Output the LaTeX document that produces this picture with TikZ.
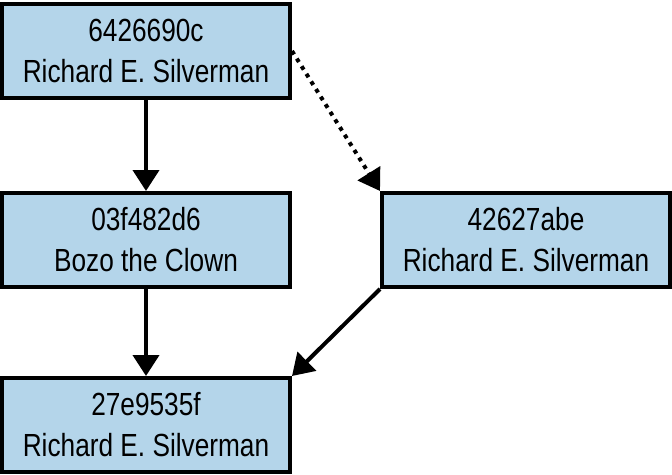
\documentclass[tikz,border=0pt]{standalone}
\usepackage{fontspec}
\setmainfont{Liberation Sans}[FakeStretch=0.82]
\usepackage{xcolor}
\definecolor{commitblue}{HTML}{B4D5EA}
\usetikzlibrary{arrows.meta,positioning}
\tikzset{
  commit/.style = {rectangle, draw=black, line width=4pt, fill=commitblue,
                   minimum width=288pt, minimum height=94pt, inner sep=0pt,
                   align=center, font=\fontsize{32}{41}\selectfont},
  arr/.style    = {-{Triangle[length=21pt,width=26pt]}, line width=4pt},
  dotarr/.style = {arr, dash pattern=on 4pt off 5pt}
}
\begin{document}
\begin{tikzpicture}[node distance=90pt]
  \useasboundingbox (0,0) rectangle (672pt,-474pt);
  \node[commit] (c1) at (146pt,-51pt) {6426690c\\Richard E. Silverman};
  \node[commit, below=91pt of c1] (c2) {03f482d6\\Bozo the Clown};
  \node[commit, right=88pt of c2] (c3) {42627abe\\Richard E. Silverman};
  \node[commit, below=87pt of c2] (c4) {27e9535f\\Richard E. Silverman};
  \foreach \a/\b in {c1.south/c2.north,c2.south/c4.north,c3.south west/c4.north east}
    \draw[arr] (\a) -- (\b);
  \draw[dotarr] (c1.east) -- (c3.north west);
\end{tikzpicture}
\end{document}
